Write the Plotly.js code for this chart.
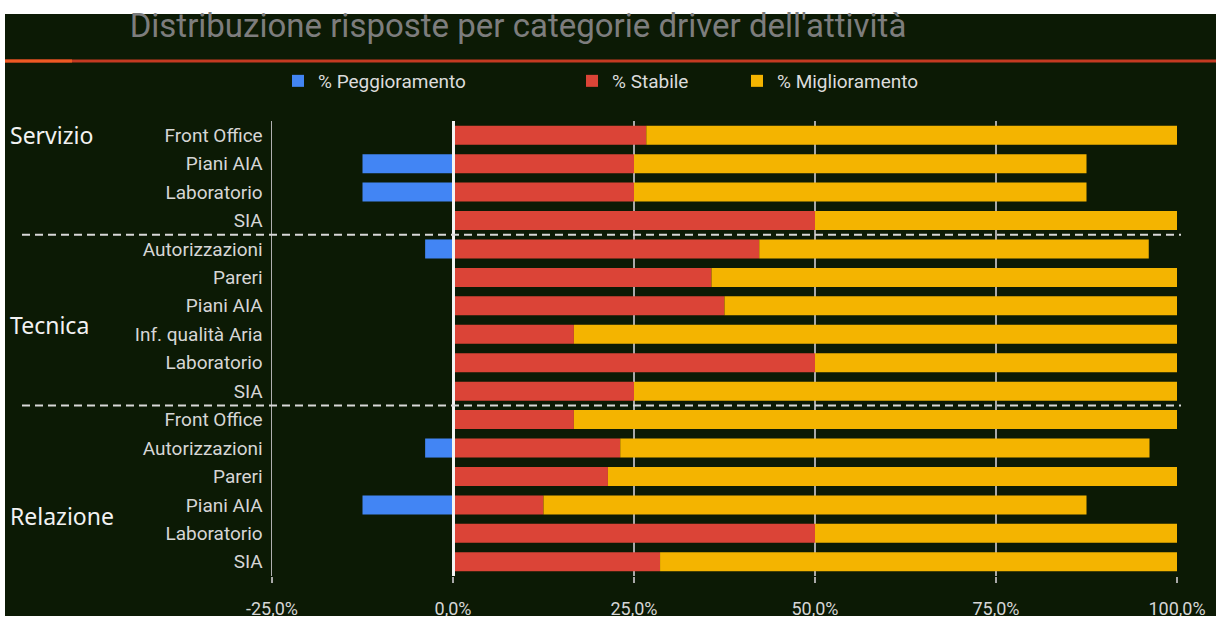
<!DOCTYPE html>
<html>
<head>
<meta charset="utf-8">
<script src="https://cdn.plot.ly/plotly-3.0.1.min.js"></script>
<style>html,body{margin:0;padding:0;background:#fff}#chart{width:1226px;height:618px}</style>
</head>
<body>
<div id="chart"></div>
<script>
const chartTitle = "Distribuzione risposte per categorie driver dell'attività";
const rowLabels = ['Front Office','Piani AIA','Laboratorio','SIA',
  'Autorizzazioni','Pareri','Piani AIA','Inf. qualità Aria','Laboratorio','SIA',
  'Front Office','Autorizzazioni','Pareri','Piani AIA','Laboratorio','SIA'];
const groupNames = ['Servizio','Tecnica','Relazione'];
const seriesNames = ['% Peggioramento','% Stabile','% Miglioramento'];
const peggioramento = [0,-0.125,-0.125,0, -0.0385,0,0,0,0,0, 0,-0.0385,0,-0.125,0,0];
const stabile = [0.267,0.25,0.25,0.5, 0.423,0.357,0.375,0.167,0.5,0.25, 0.167,0.231,0.214,0.125,0.5,0.286];
const miglioramento = [0.733,0.625,0.625,0.5, 0.538,0.643,0.625,0.833,0.5,0.75, 0.833,0.731,0.786,0.75,0.5,0.714];
const xTickVals = [-0.25,0,0.25,0.5,0.75,1.0];
const xTickText = ['-25,0%','0,0%','25,0%','50,0%','75,0%','100,0%'];

const BG = '#0c1a05';
const W = 1226, H = 618;
const L = 272, R = 1177, T = 121, B = 576;
const px2x = p => (p - L) / (R - L);
const py2y = p => (B - p) / (B - T);

const yIdx = rowLabels.map((_, i) => i);
const colors = ['#4285F4','#DB4437','#F4B400'];
const series = [peggioramento, stabile, miglioramento];

const traces = series.map((vals, k) => ({
  type: 'bar', orientation: 'h',
  name: seriesNames[k], x: vals, y: yIdx,
  marker: {color: colors[k], line: {width: 0}},
  legend: k === 0 ? 'legend' : (k === 1 ? 'legend2' : 'legend3'),
  hovertemplate: '%{x:.1%}<extra>' + seriesNames[k] + '</extra>'
}));

const legendBase = (xpx) => ({
  orientation: 'h', xref: 'container', yref: 'container',
  x: xpx / W, y: 1 - 81 / H, xanchor: 'left', yanchor: 'middle',
  bgcolor: 'rgba(0,0,0,0)', borderwidth: 0,
  font: {family: 'Roboto, sans-serif', size: 19, color: '#dcdcdc'}
});

const shapes = [
  // white frame
  {type:'rect', xref:'paper', yref:'paper', x0:px2x(-5), x1:px2x(W+5), y0:py2y(14), y1:py2y(-5), fillcolor:'#fff', line:{width:0}, layer:'above'},
  {type:'rect', xref:'paper', yref:'paper', x0:px2x(-5), x1:px2x(5), y0:py2y(H+5), y1:py2y(-5), fillcolor:'#fff', line:{width:0}, layer:'above'},
  {type:'rect', xref:'paper', yref:'paper', x0:px2x(1216), x1:px2x(W+5), y0:py2y(H+5), y1:py2y(-5), fillcolor:'#fff', line:{width:0}, layer:'above'},
  {type:'rect', xref:'paper', yref:'paper', x0:px2x(-5), x1:px2x(W+5), y0:py2y(H+5), y1:py2y(616), fillcolor:'#fff', line:{width:0}, layer:'above'},
  // header rule
  {type:'line', xref:'paper', yref:'paper', x0:px2x(5), x1:px2x(1216), y0:py2y(61), y1:py2y(61), line:{color:'#c43a22', width:3}},
  {type:'line', xref:'paper', yref:'paper', x0:px2x(5), x1:px2x(72), y0:py2y(61), y1:py2y(61), line:{color:'#ee5a24', width:3}},
  // group separators
  {type:'line', xref:'paper', yref:'y', x0:px2x(22), x1:px2x(1181), y0:3.5, y1:3.5, line:{color:'#d8d8d8', width:2, dash:'8px,5px'}, layer:'above'},
  {type:'line', xref:'paper', yref:'y', x0:px2x(22), x1:px2x(1181), y0:9.5, y1:9.5, line:{color:'#d8d8d8', width:2, dash:'8px,5px'}, layer:'above'}
];

const groupFont = {family: '"Noto Sans", sans-serif', size: 23, color: '#f2f2f2'};
const annotations = [
  {text: groupNames[0], xref:'paper', yref:'y', x:px2x(8), y:0, xanchor:'left', yanchor:'middle', showarrow:false, font:groupFont},
  {text: groupNames[1], xref:'paper', yref:'y', x:px2x(8), y:6.68, xanchor:'left', yanchor:'middle', showarrow:false, font:groupFont},
  {text: groupNames[2], xref:'paper', yref:'y', x:px2x(8), y:13.4, xanchor:'left', yanchor:'middle', showarrow:false, font:groupFont}
];

const layout = {
  width: W, height: H,
  paper_bgcolor: BG, plot_bgcolor: BG,
  margin: {l: L, r: W - R, t: T, b: H - B, pad: 0},
  separators: ',.',
  barmode: 'relative', bargap: 0.33,
  title: {text: chartTitle, xref:'container', yref:'container', x: 518/W, y: 1 - 25/H, xanchor:'center', yanchor:'middle',
    font: {family:'Roboto, sans-serif', size: 33, color:'#7d7d7d'}},
  xaxis: {range: [-0.25, 1.0], tickvals: xTickVals, ticktext: xTickText,
    showgrid: true, gridcolor: '#a8a8a8', gridwidth: 1.5,
    zeroline: true, zerolinecolor: '#f4f4f4', zerolinewidth: 3, zerolinelayer: 'above traces',
    ticks: 'outside', ticklen: 6, tickwidth: 1.5, tickcolor: '#a8a8a8', ticklabelstandoff: 10,
    showline: false, fixedrange: true,
    tickfont: {family:'Roboto, sans-serif', size: 18, color:'#d6d6d6'}},
  yaxis: {range: [15.5, -0.5], tickvals: yIdx, ticktext: rowLabels,
    showgrid: false, zeroline: false, ticks: '', showline: true, linecolor: '#b0b0b0', linewidth: 1.5,
    ticklabelstandoff: 4, fixedrange: true,
    tickfont: {family:'Roboto, sans-serif', size: 19, color:'#d6d6d6'}},
  showlegend: true,
  legend: legendBase(278),
  legend2: legendBase(572),
  legend3: legendBase(737),
  shapes: shapes,
  annotations: annotations
};

Plotly.newPlot('chart', traces, layout, {displayModeBar: false, staticPlot: true});
</script>
</body>
</html>
